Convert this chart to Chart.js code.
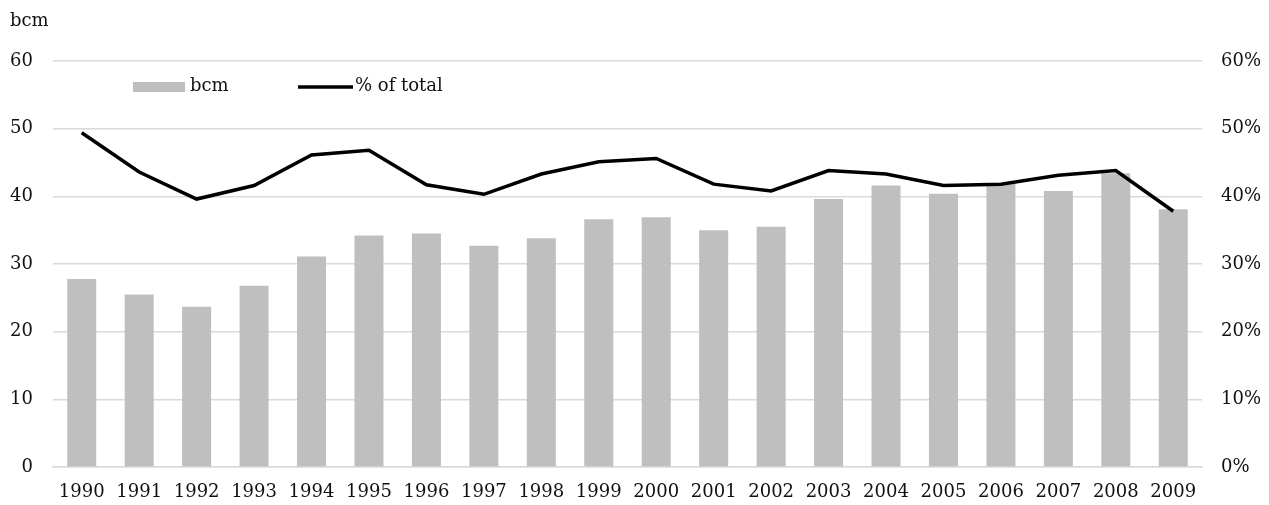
<!DOCTYPE html>
<html>
<head>
<meta charset="utf-8">
<script src="https://cdn.jsdelivr.net/npm/chart.js@4.4.1/dist/chart.umd.min.js"></script>
<style>
  html, body { margin: 0; padding: 0; background: #ffffff; }
  #wrap { width: 1269px; height: 505px; position: relative; }
</style>
</head>
<body>
<div id="wrap"><canvas id="c" width="1269" height="505"></canvas></div>
<script>
const years = ['1990','1991','1992','1993','1994','1995','1996','1997','1998','1999',
               '2000','2001','2002','2003','2004','2005','2006','2007','2008','2009'];
const bcmValues = [27.8, 25.5, 23.7, 26.8, 31.1, 34.2, 34.5, 32.7, 33.8, 36.6,
                   36.9, 35.0, 35.5, 39.6, 41.6, 40.4, 41.9, 40.8, 43.4, 38.1];
const shareValues = [49.4, 43.6, 39.6, 41.6, 46.1, 46.8, 41.7, 40.3, 43.3, 45.1,
                     45.6, 41.8, 40.8, 43.8, 43.3, 41.6, 41.8, 43.1, 43.8, 37.8];
const leftTicks = [0, 10, 20, 30, 40, 50, 60];
const rightTicks = [0, 10, 20, 30, 40, 50, 60];
const seriesLabels = ['bcm', '% of total'];
const axisTitle = 'bcm';

const FONT = "'DejaVu Serif', serif";
const FS = 18;
const TEXT = '#111111';

const overlayPlugin = {
  id: 'overlay',
  afterDraw(chart) {
    const ctx = chart.ctx;
    ctx.save();
    ctx.font = FS + 'px ' + FONT;
    ctx.fillStyle = TEXT;
    ctx.textBaseline = 'middle';
    ctx.textAlign = 'left';
    // axis title
    ctx.fillText(axisTitle, 10, 21);
    // legend
    const ds = chart.data.datasets;
    const barDs = ds.find(d => d.type === 'bar');
    const lineDs = ds.find(d => d.type === 'line');
    ctx.fillStyle = barDs.backgroundColor;
    ctx.fillRect(133, 82, 52, 10);
    ctx.fillStyle = TEXT;
    ctx.fillText(barDs.label, 190, 86);
    ctx.strokeStyle = lineDs.borderColor;
    ctx.lineWidth = 3.5;
    ctx.beginPath();
    ctx.moveTo(298, 87);
    ctx.lineTo(353, 87);
    ctx.stroke();
    ctx.fillText(lineDs.label, 355, 86);
    ctx.restore();
  }
};

new Chart(document.getElementById('c'), {
  data: {
    labels: years,
    datasets: [
      {
        type: 'line',
        label: seriesLabels[1],
        data: shareValues,
        yAxisID: 'y1',
        borderColor: '#000000',
        backgroundColor: '#000000',
        borderWidth: 3.5,
        pointRadius: 0,
        tension: 0,
        order: 0
      },
      {
        type: 'bar',
        label: seriesLabels[0],
        data: bcmValues,
        yAxisID: 'y',
        backgroundColor: '#bfbfbf',
        categoryPercentage: 1.0,
        barPercentage: 0.505,
        order: 1
      }
    ]
  },
  options: {
    responsive: false,
    animation: false,
    devicePixelRatio: 1,
    layout: { padding: { top: 61, left: 0, right: 0, bottom: 0 } },
    plugins: {
      legend: { display: false },
      tooltip: { enabled: false },
      title: { display: false }
    },
    scales: {
      x: {
        grid: { display: false, drawTicks: false },
        border: { display: true, color: '#d9d9d9', width: 1.5 },
        ticks: {
          color: TEXT,
          font: { family: FONT, size: FS },
          padding: 15,
          maxRotation: 0,
          autoSkip: false
        },
        afterFit(scale) { scale.height = 38; }
      },
      y: {
        position: 'left',
        min: 0, max: 60,
        afterBuildTicks(scale) { scale.ticks = leftTicks.map(v => ({ value: v })); },
        grid: { color: '#d9d9d9', lineWidth: 1.5, drawTicks: false },
        border: { display: false },
        ticks: {
          color: TEXT,
          font: { family: FONT, size: FS },
          padding: 20
        },
        afterFit(scale) { scale.width = 53; }
      },
      y1: {
        position: 'right',
        min: 0, max: 60,
        afterBuildTicks(scale) { scale.ticks = rightTicks.map(v => ({ value: v })); },
        grid: { display: false, drawTicks: false },
        border: { display: false },
        ticks: {
          color: TEXT,
          font: { family: FONT, size: FS },
          padding: 19,
          callback: v => v + '%'
        },
        afterFit(scale) { scale.width = 67; }
      }
    }
  },
  plugins: [overlayPlugin]
});
</script>
</body>
</html>
